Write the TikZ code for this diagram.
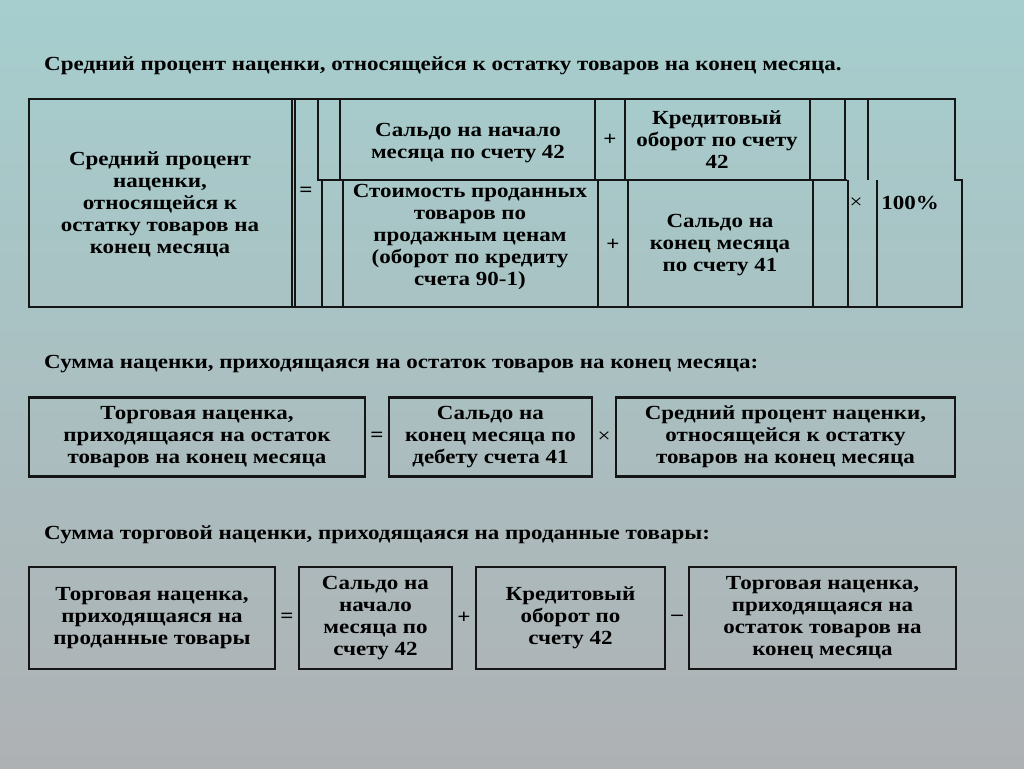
\documentclass[tikz,border=0pt]{standalone}
\usepackage{fontspec}
\setmainfont{Liberation Serif}[FakeStretch=1.15]
\usepackage{xcolor}
\usetikzlibrary{positioning}
\definecolor{bgtop}{HTML}{A6CECE}
\definecolor{bgmid}{HTML}{B3CACC}
\definecolor{bgbot}{HTML}{AEB1B4}
\definecolor{framecol}{HTML}{151515}

\begin{document}
\begin{tikzpicture}[x=1pt, y=-1pt, node distance=0pt, font=\fontsize{20}{22}\selectfont\bfseries]
  \tikzstyle{box} = [rectangle, draw=framecol, line width=2.5pt, outer sep=0pt, align=center, inner sep=0pt]
  \tikzstyle{cell} = [align=center, inner sep=0pt]
  \tikzstyle{op} = [minimum width=24pt, inner sep=0pt, outer sep=0pt]
  \tikzstyle{grid} = [draw=framecol, line width=2pt]
  \tikzstyle{heading} = [anchor=west, inner sep=0pt]

  \shade[top color=bgtop, middle color=bgmid, bottom color=bgbot] (0,0) rectangle (1024,768);
  \useasboundingbox (0,0) rectangle (1024,768);

  % average markup percentage
  \node [heading] (head1) at (44,66) {Средний процент наценки, относящейся к остатку товаров на конец месяца.};

  \draw [grid] (29,99) -- (955,99) -- (955,180) -- (962,180) -- (962,307) -- (29,307) -- cycle
    (292,99) -- (292,307) (295,99) -- (295,307)
    (318,99) -- (318,180) -- (847,180)
    (340,99) -- (340,180) (595,99) -- (595,180) (625,99) -- (625,180)
    (810,99) -- (810,180) (845,99) -- (845,180) (868,99) -- (868,180)
    (322,180) -- (322,307) (343,180) -- (343,307) (598,180) -- (598,307)
    (628,180) -- (628,307) (813,180) -- (813,307) (848,180) -- (848,307)
    (877,180) -- (877,307);

  \node [cell] (avgpct) at (160,204) {Средний процент\\наценки,\\относящейся к\\остатку товаров на\\конец месяца};
  \node [cell] (eqtop) at (306,192) {=};
  \node [cell] (open42) at (468,143) {Сальдо на начало\\месяца по счету 42};
  \node [cell] (plustop) at (610,140) {+};
  \node [cell] (credit42) at (717,140) {Кредитовый\\оборот по счету\\42};
  \node [cell] (soldsales) at (470,237) {Стоимость проданных\\товаров по\\продажным ценам\\(оборот по кредиту\\счета 90-1)};
  \node [cell] (plusbot) at (613,245) {+};
  \node [cell] (close41) at (720,245) {Сальдо на\\конец месяца\\по счету 41};
  \node [cell, font=\fontsize{20}{22}\selectfont\mdseries] (timestop) at (856,203) {×};
  \node [cell] (hundred) at (910,203) {100\%};

  % markup on closing stock
  \node [heading] (head2) at (44,364) {Сумма наценки, приходящаяся на остаток товаров на конец месяца:};

  \node [box, minimum width=336pt, minimum height=79pt] (stockmarkup) at (197,437) {Торговая наценка,\\приходящаяся на остаток\\товаров на конец месяца};
  \node [op, right=of stockmarkup] (eqmid) {=};
  \node [box, minimum width=203pt, minimum height=79pt, right=of eqmid] (debit41) {Сальдо на\\конец месяца по\\дебету счета 41};
  \node [op, right=of debit41, font=\fontsize{20}{22}\selectfont\mdseries] (timesmid) {×};
  \node [box, minimum width=339pt, minimum height=79pt, right=of timesmid] (avgref) {Средний процент наценки,\\относящейся к остатку\\товаров на конец месяца};

  % markup on goods sold
  \node [heading] (head3) at (44,535) {Сумма торговой наценки, приходящаяся на проданные товары:};

  \node [box, minimum width=246pt, minimum height=102pt] (soldmarkup) at (152,618) {Торговая наценка,\\приходящаяся на\\проданные товары};
  \node [op, right=of soldmarkup] (eqbot) {=};
  \node [box, minimum width=153pt, minimum height=102pt, right=of eqbot] (opening42) {Сальдо на\\начало\\месяца по\\счету 42};
  \node [op, right=of opening42] (plusthird) {+};
  \node [box, minimum width=189pt, minimum height=102pt, right=of plusthird] (turnover42) {Кредитовый\\оборот по\\счету 42};
  \node [op, right=of turnover42] (minusbot) {–};
  \node [box, minimum width=267pt, minimum height=102pt, right=of minusbot] (stockref) {Торговая наценка,\\приходящаяся на\\остаток товаров на\\конец месяца};
\end{tikzpicture}
\end{document}
